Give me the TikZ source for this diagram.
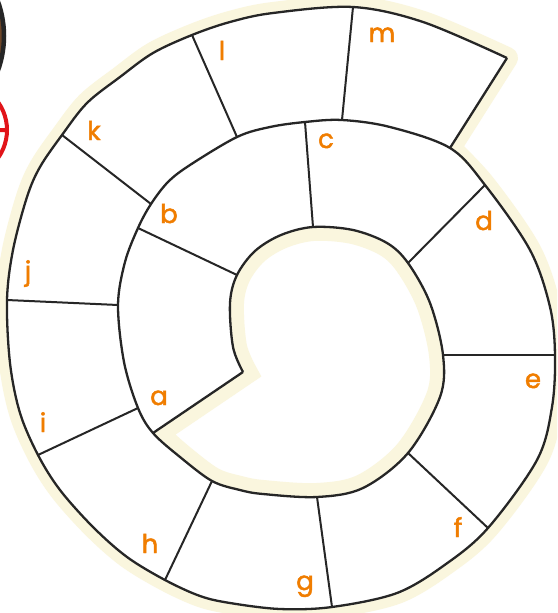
\documentclass[tikz,border=0pt]{standalone}
\usepackage{fontspec}
\setmainfont{Poppins}
\newfontfamily\lblfont{Poppins}[FakeBold=1.8]
\usepackage{xcolor}

\definecolor{cream}{RGB}{250,246,222}
\definecolor{letter}{RGB}{240,125,0}
\definecolor{ringred}{RGB}{225,20,25}
\definecolor{ringbrown}{RGB}{110,70,40}

\tikzset{
    spiral/.style={line width=2.3pt, black!85, line join=round},
    wall/.style={line width=2pt, black!85},
    lbl/.style={text=letter, anchor=base, inner sep=0pt, font=\lblfont\fontsize{26}{26}\selectfont},
}

\begin{document}
\begin{tikzpicture}[x=1pt, y=-1pt]
    \clip (0,0) rectangle (557,613);
    \fill[white] (0,0) rectangle (557,613);

    % cut off pictures at the left edge
    \draw[line width=4.5pt, black!85, fill=ringbrown] (-97,36) circle[radius=101];
    \draw[ringred, line width=4pt] (-41,130) circle[radius=48] (-41,130) -- (7,130);

    % ends of the walls: 1 on the inner turn, 2 on the outer turn
    \coordinate (s1) at (243,372); \coordinate (s2) at (153,433);
    \coordinate (t1) at (450,148); \coordinate (t2) at (507,58);
    \coordinate (b1) at (237,275); \coordinate (b2) at (138,228);
    \coordinate (c1) at (313,227); \coordinate (c2) at (305,122);
    \coordinate (d1) at (408,263); \coordinate (d2) at (485,185);
    \coordinate (e1) at (443,355); \coordinate (e2) at (555,355);
    \coordinate (f1) at (408,453); \coordinate (f2) at (488,528);
    \coordinate (g1) at (317,497); \coordinate (g2) at (332,607);
    \coordinate (h1) at (212,481); \coordinate (h2) at (165,580);
    \coordinate (i1) at (138,408); \coordinate (i2) at (38,455);
    \coordinate (j1) at (118,305); \coordinate (j2) at (7,300);
    \coordinate (k1) at (151,204); \coordinate (k2) at (62,135);
    \coordinate (l1) at (237,137); \coordinate (l2) at (192,35);
    \coordinate (m1) at (342,120); \coordinate (m2) at (353,7);

    \def\holepts{(s1) (233,347) (230,303) (b1) (255,251) (281,235) (c1) (353,230) (387,243) (d1) (430,303) (e1) (440,397) (f1) (363,488) (g1) (263,494) (240,490) (h1) (180,457) (s2)}
    \def\midpts{(i1) (124,362) (j1) (125,262) (b2) (k1) (168,182) (190,165) (l1) (270,127) (c2) (m1) (390,127)}
    \def\outerpts{(t1) (d2) (530,250) (550,307) (e2) (552,407) (537,460) (f2) (446,564) (397,593) (g2) (280,609) (230,603) (200,596) (h2) (127,557) (93,527) (60,490) (i2) (20,413) (10,363) (j2) (13,250) (27,197) (40,167) (k2) (87,103) (120,77) (153,53) (l2) (230,22) (273,13) (m2) (423,22) (t2)}

    % cream rim
    \path[preaction={draw=cream, line width=22pt, line join=round}, fill=white]
        plot[smooth, tension=.55] coordinates {\outerpts} -- cycle;
    \begin{scope}
        \clip plot[smooth, tension=.55] coordinates {\holepts} -- cycle;
        \draw[cream, line width=28pt] plot[smooth, tension=.55] coordinates {\holepts} -- cycle;
    \end{scope}

    % the spiral
    \draw[spiral] plot[smooth, tension=.55] coordinates {\holepts \midpts \outerpts};
    \draw[spiral] (s1) -- (s2) (t1) -- (t2);
    \foreach \n in {b,...,m}
        \draw[wall] (\n1) -- (\n2);

    % letters
    \node[lbl] (la) at (159,405) {a};
    \node[lbl] (lb) at (169,223) {b};
    \node[lbl] (lc) at (326,148) {c};
    \node[lbl] (ld) at (484,230) {d};
    \node[lbl] (le) at (533,388) {e};
    \node[lbl] (lf) at (458,537) {f};
    \node[lbl] (lg) at (305,590) {g};
    \node[lbl] (lh) at (150,553) {h};
    \node[lbl] (li) at (43,432) {i};
    \node[lbl] (lj) at (28,280) {j};
    \node[lbl] (lk) at (94,140) {k};
    \node[lbl] (ll) at (222,60) {l};
    \node[lbl] (lm) at (382,42) {m};
\end{tikzpicture}
\end{document}
